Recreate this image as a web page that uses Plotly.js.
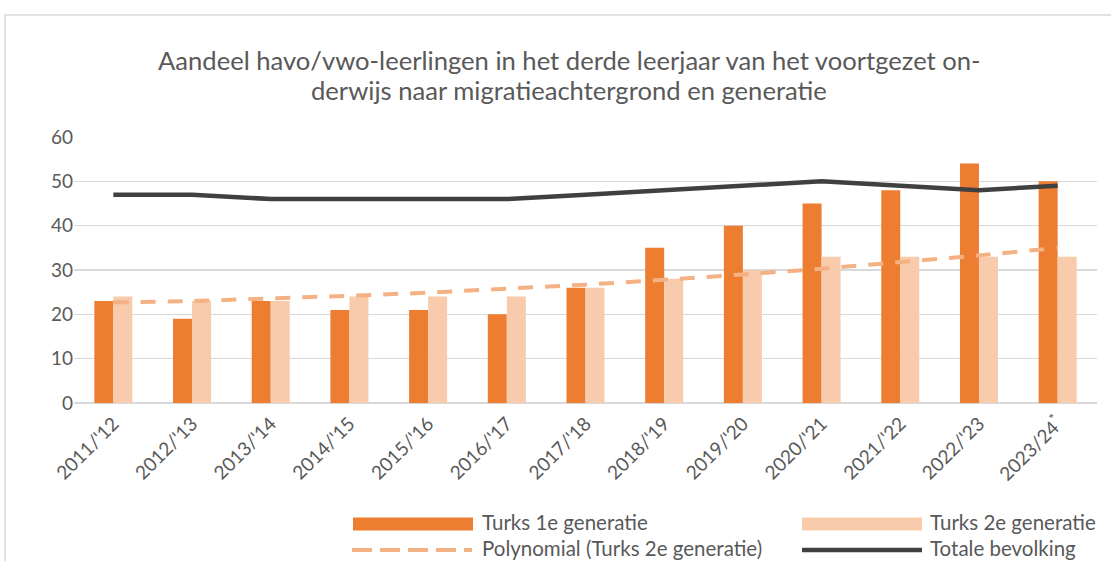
<!DOCTYPE html>
<html>
<head>
<meta charset="utf-8">
<script src="https://cdn.plot.ly/plotly-3.0.1.min.js"></script>
<style>
  html, body { margin: 0; padding: 0; background: #ffffff; }
  #chart { width: 1111px; height: 561px; }
</style>
</head>
<body>
<div id="chart"></div>
<script>
// ---- data ----
const categories = ["2011/'12", "2012/'13", "2013/'14", "2014/'15", "2015/'16", "2016/'17",
  "2017/'18", "2018/'19", "2019/'20", "2020/'21", "2021/'22", "2022/'23", "2023/24<sup>*</sup>"];
const turks1e = [23, 19, 23, 21, 21, 20, 26, 35, 40, 45, 48, 54, 50];
const turks2e = [24, 23, 23, 24, 24, 24, 26, 28, 30, 33, 33, 33, 33];
const totaal = [47, 47, 46, 46, 46, 46, 47, 48, 49, 50, 49, 48, 49];
const trend2e = [22.7, 23.0, 23.6, 24.2, 24.9, 25.8, 26.7, 27.8, 29.0, 30.3, 31.8, 33.3, 35.0];
const seriesNames = ["Turks 1e generatie", "Turks 2e generatie",
  "Polynomial (Turks 2e generatie)", "Totale bevolking"];
const yTicks = [0, 10, 20, 30, 40, 50, 60];
const titleLines = ["Aandeel havo/vwo-leerlingen in het derde leerjaar van het voortgezet on-",
  "derwijs naar migratieachtergrond en generatie"];

// ---- styles ----
const C1 = "#ED7D31", C2 = "#F8CBAD", CT = "#F4B183", CL = "#404040";
const TXT = "#595959";
const FONT = "Lato, 'Open Sans', sans-serif";

const W = 1111, H = 561;
const M = { l: 74, r: 14, t: 137, b: 158 };
const PW = W - M.l - M.r, PH = H - M.t - M.b;
const px = x => (x - M.l) / PW;
const py = y => (H - M.b - y) / PH;

const traces = [
  { type: "bar", name: seriesNames[0], x: categories, y: turks1e,
    marker: { color: C1 }, showlegend: false, hoverinfo: "x+y" },
  { type: "bar", name: seriesNames[1], x: categories, y: turks2e,
    marker: { color: C2 }, showlegend: false, hoverinfo: "x+y" },
  { type: "scatter", mode: "lines", name: seriesNames[2], x: categories, y: trend2e,
    line: { color: CT, width: 4, dash: "15px,12px", shape: "spline" }, showlegend: false },
  { type: "scatter", mode: "lines", name: seriesNames[3], x: categories, y: totaal,
    line: { color: CL, width: 4.5 }, showlegend: false }
];

// custom legend (to match long swatches)
const legendItems = [
  { kind: "bar", color: C1, x0: 353, x1: 473, y: 524, ty: 522, tx: 480, label: seriesNames[0] },
  { kind: "bar", color: C2, x0: 802, x1: 922, y: 524, ty: 522, tx: 928, label: seriesNames[1] },
  { kind: "dash", color: CT, x0: 352, x1: 472, y: 550, ty: 548, tx: 480, label: seriesNames[2] },
  { kind: "line", color: CL, x0: 802, x1: 922, y: 550, ty: 548, tx: 928, label: seriesNames[3] }
];

const shapes = [
  // chart frame
  { type: "rect", xref: "paper", yref: "paper", x0: px(5), x1: px(1130), y0: py(15), y1: py(620),
    line: { color: "#D9D9D9", width: 1.5 }, fillcolor: "rgba(0,0,0,0)", layer: "below" }
];
const annotations = [];
legendItems.forEach(it => {
  if (it.kind === "bar") {
    shapes.push({ type: "rect", xref: "paper", yref: "paper",
      x0: px(it.x0), x1: px(it.x1), y0: py(it.y - 6.5), y1: py(it.y + 6.5),
      fillcolor: it.color, line: { width: 0 } });
  } else {
    shapes.push({ type: "line", xref: "paper", yref: "paper",
      x0: px(it.x0), x1: px(it.x1), y0: py(it.y), y1: py(it.y),
      line: { color: it.color, width: it.kind === "dash" ? 4 : 4.5,
        dash: it.kind === "dash" ? "20px,8px" : "solid" } });
  }
  annotations.push({ xref: "paper", yref: "paper", x: px(it.tx), y: py(it.ty),
    xanchor: "left", yanchor: "middle", showarrow: false, text: it.label,
    font: { family: FONT, size: 20.5, color: TXT } });
});

// title as two centred lines
[60, 90].forEach((yy, i) => {
  annotations.push({ xref: "paper", yref: "paper", x: px(569), y: py(yy),
    xanchor: "center", yanchor: "middle", showarrow: false, text: titleLines[i],
    font: { family: FONT, size: 25.6, color: TXT } });
});

const layout = {
  width: W, height: H,
  margin: M,
  paper_bgcolor: "#ffffff", plot_bgcolor: "#ffffff",
  font: { family: FONT, color: TXT },
  barmode: "group",
  bargap: 0.517,
  bargroupgap: 0,
  xaxis: {
    type: "category",
    tickangle: -45,
    showgrid: false, showline: false, zeroline: false, ticks: "",
    tickfont: { family: FONT, size: 19, color: TXT },
    ticklabelstandoff: 5,
    fixedrange: true
  },
  yaxis: {
    range: [0, 60],
    tickvals: yTicks,
    showgrid: true, gridcolor: "#D9D9D9", gridwidth: 1.5,
    zeroline: true, zerolinecolor: "#D9D9D9", zerolinewidth: 1.5,
    showline: false, ticks: "",
    tickfont: { family: FONT, size: 19, color: TXT },
    fixedrange: true
  },
  shapes: shapes,
  annotations: annotations,
  showlegend: false
};

Plotly.newPlot("chart", traces, layout, { displayModeBar: false, staticPlot: true });
</script>
</body>
</html>
